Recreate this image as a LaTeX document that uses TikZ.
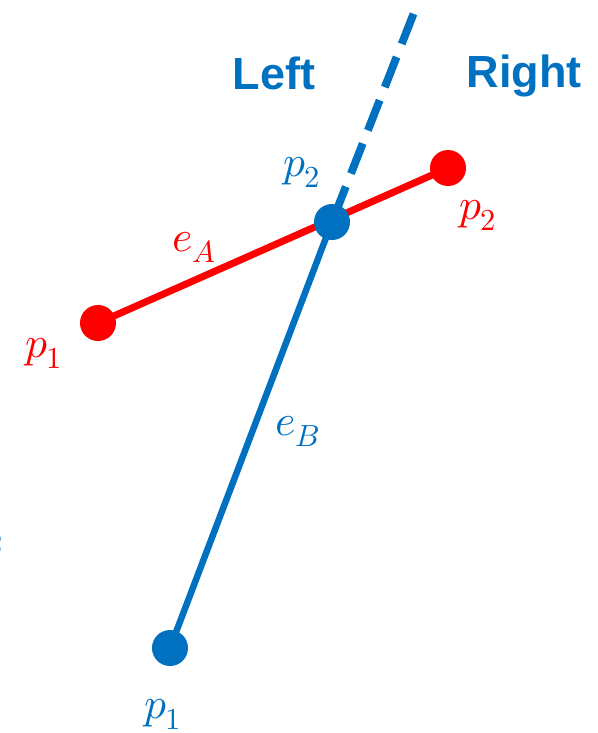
\documentclass[tikz,border=0pt]{standalone}
\usepackage{xcolor,fontspec,unicode-math}
\newfontfamily\sidefont{Liberation Sans}
\definecolor{Blue}{HTML}{0070C0}
\definecolor{Red}{HTML}{FF0000}
\begin{document}
\begin{tikzpicture}[x=.025cm,y=-.025cm,line cap=round,
  lbl/.style={text=#1,inner sep=0pt,font=\fontsize{31}{37}\selectfont},
  side/.style={text=Blue,inner sep=0pt,font=\sidefont\bfseries\fontsize{32}{38}\selectfont}]
\useasboundingbox(0,0)rectangle(598,733);
\coordinate(a1)at(98,323);\coordinate(a2)at(448,168);
\coordinate(b1)at(170,648);\coordinate(b2)at(332,222);
\coordinate(bend)at(415,10);
% segments
\draw[Red,line width=5pt](a1)--(a2);
\draw[Blue,line width=4.6pt](b1)--(b2);
\draw[Blue,line width=5.6pt,line cap=butt,dash pattern=on 23 off 10,dash phase=-4](b2)--(bend);
\fill[Red](a1)circle(.45cm);\fill[Red](a2)circle(.45cm);
\fill[Blue](b1)circle(.45cm);\fill[Blue](b2)circle(.45cm);
% labels
\node[side](left)at(274,73){Left};
\node[side](right)at(524,76){Right};
\node[lbl=Red](la1)at(44,353){$p_1$};
\node[lbl=Red](la2)at(478,215){$p_2$};
\node[lbl=Red](lea)at(194,247){$e_A$};
\node[lbl=Blue](lb1)at(163,714){$p_1$};
\node[lbl=Blue](lb2)at(302,172){$p_2$};
\node[lbl=Blue](leb)at(298,431){$e_B$};
\node[lbl=Blue,anchor=east](frag)at(3,543){$\scriptstyle 2$};
\end{tikzpicture}
\end{document}
